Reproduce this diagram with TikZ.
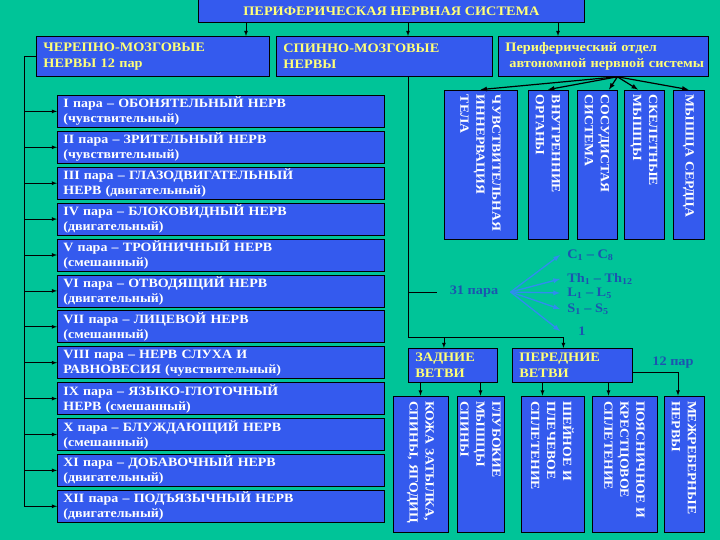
\documentclass[tikz,border=0pt]{standalone}
\usepackage{fontspec}
\setmainfont{Liberation Serif}[FakeStretch=1.1]

\definecolor{bgteal}{RGB}{0,196,152}
\definecolor{boxblue}{RGB}{52,90,238}
\definecolor{txtyellow}{RGB}{255,255,120}
\definecolor{labblue}{RGB}{28,84,176}
\definecolor{fanblue}{RGB}{48,140,240}

\providecommand*{\pairTop}{}
\providecommand*{\pairStep}{}
\renewcommand*{\pairTop}{95}
\renewcommand*{\pairStep}{35.9}

\tikzset{
  hbox/.style={draw=black, fill=boxblue, text=txtyellow,
    font=\bfseries\fontsize{13}{16}\selectfont, align=left,
    inner xsep=7pt, inner ysep=0pt, minimum height=40pt, anchor=north west},
  pairbox/.style={draw=black, fill=boxblue, text=white,
    font=\bfseries\fontsize{12.7}{15}\selectfont, align=left, text width=315pt,
    inner xsep=6pt, inner ysep=0pt, minimum height=32pt, anchor=north west},
  vbox/.style={draw=black, fill=boxblue, text=white,
    font=\bfseries\fontsize{12.5}{16}\selectfont, align=left, rotate=-90,
    inner xsep=5pt, inner ysep=0pt},
  seglabel/.style={text=labblue, font=\bfseries\fontsize{13}{15}\selectfont,
    anchor=west, inner xsep=7pt},
  fan/.style={->, fanblue, line width=1.3pt},
}

\begin{document}
\begin{tikzpicture}[x=1pt,y=-1pt,>=latex,line width=0.8pt]
  \fill[bgteal] (0,0) rectangle (720,540);
  \useasboundingbox (0,0) rectangle (720,540);

  \node[hbox, align=center, minimum width=386pt, minimum height=23pt, inner xsep=0pt]
    (pns) at (198,-1) {ПЕРИФЕРИЧЕСКАЯ НЕРВНАЯ СИСТЕМА};
  \node[hbox, text width=219pt] (crn) at (36,36) {ЧЕРЕПНО-МОЗГОВЫЕ\\НЕРВЫ 12 пар};
  \node[hbox, text width=202pt] (spn) at (276,36) {СПИННО-МОЗГОВЫЕ\\НЕРВЫ};
  \node[hbox, text width=196pt] (aut) at (498,36)
    {Периферический~отдел\\\hspace*{4pt}автономной~нервной~системы};

  \coordinate (tA) at (246,0);
  \coordinate (tB) at (408,0);
  \coordinate (tC) at (558,0);
  \foreach \t/\b in {tA/crn,tB/spn,tC/aut}
    \draw[->] (pns.south -| \t) -- (\b.north -| \t);

  \foreach \txt [count=\i] in {
      {I пара – ОБОНЯТЕЛЬНЫЙ НЕРВ\\(чувствительный)},
      {II пара – ЗРИТЕЛЬНЫЙ НЕРВ\\(чувствительный)},
      {III пара – ГЛАЗОДВИГАТЕЛЬНЫЙ\\НЕРВ (двигательный)},
      {IV пара – БЛОКОВИДНЫЙ НЕРВ\\(двигательный)},
      {V пара – ТРОЙНИЧНЫЙ НЕРВ\\(смешанный)},
      {VI пара – ОТВОДЯЩИЙ НЕРВ\\(двигательный)},
      {VII пара – ЛИЦЕВОЙ НЕРВ\\(смешанный)},
      {VIII пара – НЕРВ СЛУХА И\\РАВНОВЕСИЯ (чувствительный)},
      {IX пара – ЯЗЫКО-ГЛОТОЧНЫЙ\\НЕРВ (смешанный)},
      {X пара – БЛУЖДАЮЩИЙ НЕРВ\\(смешанный)},
      {XI пара – ДОБАВОЧНЫЙ НЕРВ\\(двигательный)},
      {XII пара – ПОДЪЯЗЫЧНЫЙ НЕРВ\\(двигательный)}} {
    \node[pairbox] (p\i) at (57,{\pairTop+(\i-1)*\pairStep}) {\txt};
  }
  \coordinate (crline) at (24,0);
  \draw (crn.west) -| (crline |- p12.west);
  \foreach \i in {1,...,12}
    \draw[->] (crline |- p\i.west) -- (p\i.west);

  \node[vbox, minimum width=149pt, minimum height=73pt, text width=139pt] (v1) at (480.5,164.5)
    {ЧУВСТВИТЕЛЬНАЯ\\ИННЕРВАЦИЯ\\ТЕЛА};
  \node[vbox, minimum width=149pt, minimum height=40pt, text width=139pt] (v2) at (548,164.5)
    {ВНУТРЕННИЕ\\ОРГАНЫ};
  \node[vbox, minimum width=149pt, minimum height=40pt, text width=139pt] (v3) at (597,164.5)
    {СОСУДИСТАЯ\\СИСТЕМА};
  \node[vbox, minimum width=149pt, minimum height=40pt, text width=139pt] (v4) at (644,164.5)
    {СКЕЛЕТНЫЕ\\МЫШЦЫ};
  \node[vbox, minimum width=149pt, minimum height=31pt, text width=139pt] (v5) at (688.5,164.5)
    {МЫШЦА~СЕРДЦА};

  \coordinate (hub) at ([xshift=14pt]aut.south);
  \coordinate (v3T) at ([xshift=12pt]v3.west);
  \coordinate (v4T) at ([xshift=-6pt]v4.west);
  \foreach \t in {v1.west,v2.west,v3T,v4T,v5.west}
    \draw[->, line width=1.2pt] (hub) -- (\t);

  \node[seglabel, inner xsep=12pt, anchor=center] (pairs) at (474,292) {31 пара};
  \node[seglabel] (cv) at (560,255) {C\textsubscript{1} – C\textsubscript{8}};
  \node[seglabel] (th) at (560,279) {Th\textsubscript{1} – Th\textsubscript{12}};
  \node[seglabel] (lb) at (560,293) {L\textsubscript{1} – L\textsubscript{5}};
  \node[seglabel] (sc) at (560,309) {S\textsubscript{1} – S\textsubscript{5}};
  \node[seglabel, inner xsep=18pt] (co) at (560,331) {1};
  \foreach \s in {cv,th,lb,sc,co}
    \draw[fan] (pairs.east) -- (\s.west);

  \node[hbox, text width=75pt, minimum height=34pt] (back) at (408,348) {ЗАДНИЕ\\ВЕТВИ};
  \node[hbox, text width=106pt, minimum height=34pt] (front) at (512,348) {ПЕРЕДНИЕ\\ВЕТВИ};
  \node[seglabel, anchor=center] (twelve) at (673,363) {12 пар};

  \coordinate (fork) at (408,337);
  \coordinate (bkT) at ([xshift=-9pt]back.north);
  \coordinate (frT) at ([xshift=-9pt]front.north);
  \draw (spn.south -| fork) -- (fork) -- (fork -| frT);
  \draw[->] (fork -| bkT) -- (bkT);
  \draw[->] (fork -| frT) -- (frT);
  \draw (fork |- pairs.west) -- (pairs.west);

  \node[vbox, minimum width=136pt, minimum height=55pt, text width=126pt] (b1) at (420.5,464)
    {КОЖА~ЗАТЫЛКА,\\СПИНЫ,~ЯГОДИЦ};
  \node[vbox, minimum width=136pt, minimum height=47pt, text width=126pt] (b2) at (480.5,464)
    {ГЛУБОКИЕ\\МЫШЦЫ\\СПИНЫ};
  \node[vbox, minimum width=136pt, minimum height=63pt, text width=126pt] (b3) at (552.5,464)
    {ШЕЙНОЕ~И\\ПЛЕЧЕВОЕ\\СПЛЕТЕНИЕ};
  \node[vbox, minimum width=136pt, minimum height=65pt, text width=126pt] (b4) at (624.5,464)
    {ПОЯСНИЧНОЕ~И\\КРЕСТЦОВОЕ\\СПЛЕТЕНИЕ};
  \node[vbox, minimum width=136pt, minimum height=40pt, text width=126pt] (b5) at (684,464)
    {МЕЖРЕБЕРНЫЕ\\НЕРВЫ};

  \coordinate (b3T) at ([xshift=-10pt]b3.west);
  \coordinate (b4T) at ([xshift=-16pt]b4.west);
  \coordinate (b5T) at ([xshift=-6pt]b5.west);
  \draw[->] (back.south -| b1.west) -- (b1.west);
  \draw[->] (back.south -| b2.west) -- (b2.west);
  \draw[->] (front.south -| b3T) -- (b3T);
  \draw[->] (front.south -| b4T) -- (b4T);
  \draw[->] ([yshift=-7pt]front.east) -| (b5T);
\end{tikzpicture}
\end{document}
